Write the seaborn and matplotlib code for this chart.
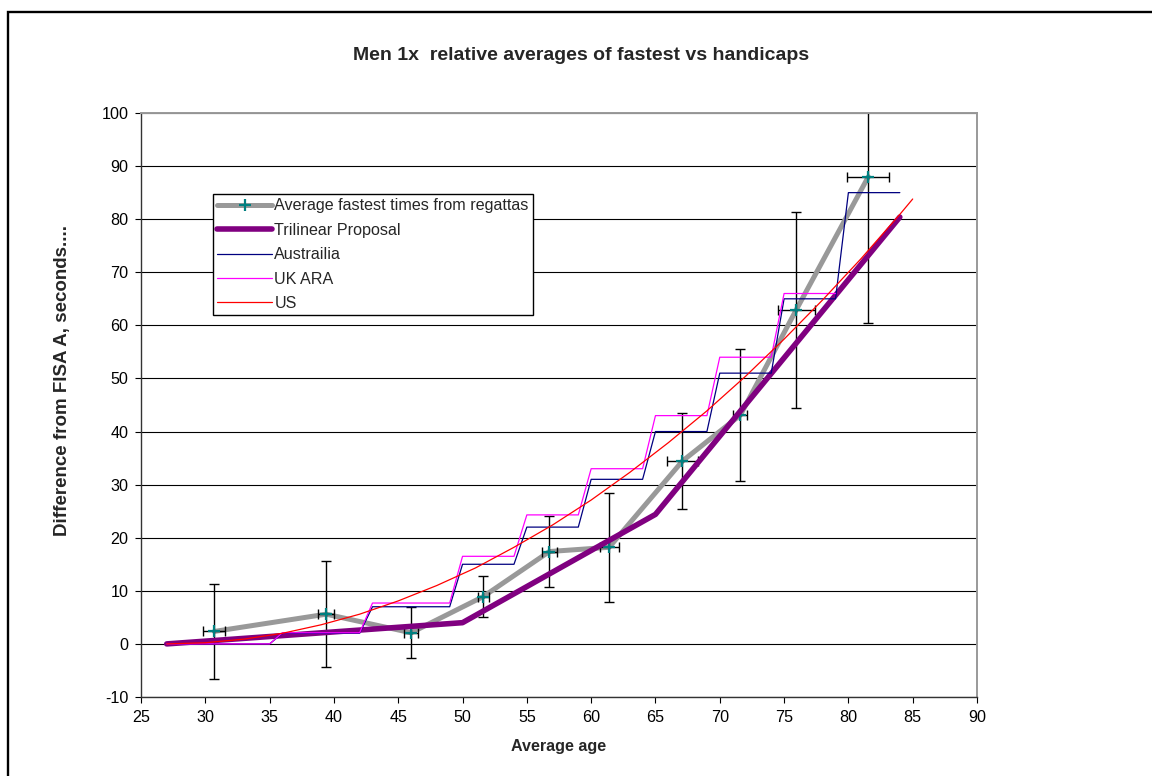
import matplotlib
matplotlib.use("Agg")
import matplotlib.pyplot as plt
import matplotlib.patches as mpatches
from matplotlib.lines import Line2D
import seaborn as sns
import pandas as pd

# ---------------- data ----------------
avg_age = [30.7, 39.4, 46.0, 51.6, 56.75, 61.4, 67.1, 71.6, 75.95, 81.55]
avg_time = [2.35, 5.6, 2.1, 8.9, 17.4, 18.2, 34.45, 43.1, 62.95, 88.0]
avg_yerr = [9.0, 10.0, 4.8, 3.9, 6.7, 10.3, 9.05, 12.5, 18.45, 27.6]
avg_xerr = [0.85, 0.6, 0.57, 0.42, 0.57, 0.75, 1.19, 0.54, 1.46, 1.63]

tri_age = [27, 50, 65, 84]
tri_val = [0.0, 4.0, 24.4, 80.4]

aus_age = [27, 35, 36, 42, 43, 49, 50, 54, 55, 59, 60, 64, 65, 69, 70, 74, 75, 79, 80, 84]
aus_val = [0, 0, 2, 2, 7, 7, 15, 15, 22, 22, 31, 31, 40, 40, 51, 51, 65, 65, 85, 85]

uk_age = [27, 35, 36, 42, 43, 49, 50, 54, 55, 59, 60, 64, 65, 69, 70, 74, 75, 79]
uk_val = [0, 0, 2.1, 2.1, 7.7, 7.7, 16.5, 16.5, 24.3, 24.3, 33, 33, 43, 43, 54, 54, 66, 66]

us_age = [27, 30, 33, 36, 39, 42, 45, 48, 51, 54, 57, 60, 63, 66, 69, 72, 75, 78, 81, 84, 85]
us_val = [0, 0.22, 0.9, 2.0, 3.6, 5.6, 8.1, 11.0, 14.3, 18.2, 22.4, 27.1, 32.3, 37.9,
          43.9, 50.4, 57.4, 64.8, 72.6, 80.9, 83.8]

x_ticks = list(range(25, 95, 5))
y_ticks = list(range(-10, 110, 10))

labels = ["Average fastest times from regattas", "Trilinear Proposal",
          "Austrailia", "UK ARA", "US"]

title = "Men 1x  relative averages of fastest vs handicaps"
xlabel = "Average age"
ylabel = "Difference from FISA A, seconds...."

# ---------------- style ----------------
sns.set_theme(style="white")
plt.rcParams['font.family'] = ['Liberation Sans', 'DejaVu Sans']

FS = 11.6
W, H = 1152, 776
fig = plt.figure(figsize=(W / 100, H / 100), dpi=100)
fig.patch.set_facecolor("white")

L, R, T, B = 141, 977, 113, 697
ax = fig.add_axes([L / W, 1 - B / H, (R - L) / W, (B - T) / H])
ax.set_facecolor("white")

GRAY = "#999999"
PURPLE = "#800080"
NAVY = "#000080"
MAGENTA = "#FF00FF"
RED = "#FF0000"
TEAL = "#008080"

df_avg = pd.DataFrame({"age": avg_age, "val": avg_time})
sns.lineplot(data=df_avg, x="age", y="val", sort=False, estimator=None, ax=ax,
             color=GRAY, lw=3.6, zorder=2, legend=False)
ax.errorbar(avg_age, avg_time, yerr=avg_yerr, xerr=avg_xerr, fmt="none",
            ecolor="black", elinewidth=1.0, capsize=3.6, capthick=1.0, zorder=2.5)
ax.plot(avg_age, avg_time, linestyle="none", marker="+", markersize=9,
        markeredgewidth=1.6, color=TEAL, zorder=2.6)

sns.lineplot(x=tri_age, y=tri_val, sort=False, estimator=None, ax=ax,
             color=PURPLE, lw=4.0, zorder=3, solid_capstyle="round", legend=False)
sns.lineplot(x=aus_age, y=aus_val, sort=False, estimator=None, ax=ax,
             color=NAVY, lw=0.9, zorder=4, legend=False)
sns.lineplot(x=uk_age, y=uk_val, sort=False, estimator=None, ax=ax,
             color=MAGENTA, lw=0.9, zorder=5, legend=False)
sns.lineplot(x=us_age, y=us_val, sort=False, estimator=None, ax=ax,
             color=RED, lw=0.9, zorder=6, legend=False)

ax.set_xlim(25, 90)
ax.set_ylim(-10, 100)
ax.set_xticks(x_ticks)
ax.set_yticks(y_ticks)
ax.set_xticklabels([str(v) for v in x_ticks])
ax.set_yticklabels([str(v) for v in y_ticks])
ax.tick_params(axis="both", which="major", direction="out", length=4,
               width=0.8, color="black", labelsize=FS, labelcolor="black",
               bottom=True, left=True)
ax.tick_params(axis="x", pad=5)
ax.tick_params(axis="y", pad=5)
ax.set_xlabel("")
ax.set_ylabel("")

ax.yaxis.grid(True, color="black", lw=0.8)
ax.xaxis.grid(False)
ax.set_axisbelow(True)
for s in ["left", "bottom"]:
    ax.spines[s].set_color("#333333")
    ax.spines[s].set_linewidth(1.0)
for s in ["top", "right"]:
    ax.spines[s].set_color("#999999")
    ax.spines[s].set_linewidth(1.4)

# titles / labels
fig.text(581 / W, 1 - 55 / H, title, ha="center", va="center",
         fontsize=14, fontweight="bold")
fig.text(559 / W, 1 - 746 / H, xlabel, ha="center", va="center",
         fontsize=FS, fontweight="bold")
fig.text(63 / W, 1 - 380 / H, ylabel, ha="center", va="center",
         rotation=90, fontsize=13.5, fontweight="bold")

# legend
handles = [
    Line2D([], [], color=GRAY, lw=3.6, marker="+", markersize=9,
           markeredgewidth=1.6, markeredgecolor=TEAL),
    Line2D([], [], color=PURPLE, lw=4.0, solid_capstyle="round"),
    Line2D([], [], color=NAVY, lw=0.9),
    Line2D([], [], color=MAGENTA, lw=0.9),
    Line2D([], [], color=RED, lw=0.9),
]
leg = fig.legend(handles, labels, loc="upper left",
                 bbox_to_anchor=(212.7 / W, 1 - 194.3 / H),
                 bbox_transform=fig.transFigure, borderaxespad=0,
                 fontsize=FS, frameon=True, fancybox=False, shadow=False,
                 framealpha=1, edgecolor="black", handlelength=3.45,
                 handletextpad=0.12, labelspacing=0.58, borderpad=0.26,
                 numpoints=1)
leg.get_frame().set_linewidth(1.0)

# outer chart frame (left/top visible; right/bottom beyond image)
frame = mpatches.Rectangle((8 / W, -0.1), 1.2, 1.1 - 12 / H, fill=False,
                           edgecolor="black", lw=1.7, transform=fig.transFigure)
fig.patches.append(frame)

fig.savefig("out.png", dpi=100, facecolor="white")
